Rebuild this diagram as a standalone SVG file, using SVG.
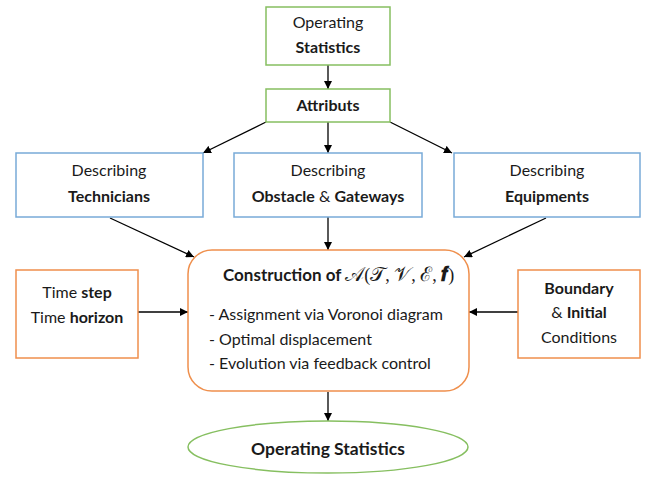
<svg xmlns="http://www.w3.org/2000/svg" width="648" height="477" viewBox="0 0 648 477">
  <style>
    text { font-family: Lato, "Open Sans", "Noto Sans", sans-serif; font-size: 16px; fill: #1a1a1a; }
    .c { text-anchor: middle; }
    .b { font-weight: bold; }
    .green { fill: #ffffff; stroke: #86bf60; stroke-width: 1.5; }
    .blue { fill: #ffffff; stroke: #78aad8; stroke-width: 1.5; }
    .orange { fill: #ffffff; stroke: #ef8f4c; stroke-width: 1.5; }
    .edge { stroke: #000000; stroke-width: 1.3; fill: none; marker-end: url(#arrow); }
    .math { font-family: "DejaVu Serif", "Liberation Serif", serif; font-size: 20px; font-weight: normal; }
    .mb { font-weight: bold; }
    .punct { font-family: "Liberation Serif", serif; font-size: 18px; font-weight: normal; }
  </style>
  <defs>
    <marker id="arrow" viewBox="0 0 10 10" refX="10" refY="5" markerWidth="8" markerHeight="8" markerUnits="userSpaceOnUse" orient="auto">
      <path d="M0,0 L10,5 L0,10 z" fill="#000000"/>
    </marker>
  </defs>

  <rect width="648" height="477" fill="#ffffff"/>

  <g id="connectors">
    <line class="edge" x1="328" y1="65" x2="328" y2="89"/>
    <line class="edge" x1="266" y1="122" x2="203" y2="153"/>
    <line class="edge" x1="328" y1="122" x2="328" y2="153"/>
    <line class="edge" x1="390" y1="122" x2="452" y2="153"/>
    <line class="edge" x1="110" y1="218" x2="194" y2="257"/>
    <line class="edge" x1="328" y1="217" x2="328" y2="250"/>
    <line class="edge" x1="546" y1="218" x2="464" y2="257"/>
    <line class="edge" x1="138" y1="312" x2="188" y2="312"/>
    <line class="edge" x1="518" y1="312" x2="469" y2="312"/>
    <line class="edge" x1="328" y1="392" x2="328" y2="421"/>
  </g>

  <g id="operating-statistics-in">
    <rect class="green" x="266" y="7" width="124" height="58"/>
    <text class="c" x="328" y="28">Operating</text>
    <text class="c b" x="328" y="53">Statistics</text>
  </g>

  <g id="attributs">
    <rect class="green" x="266" y="89" width="124" height="33"/>
    <text class="c b" x="328" y="111">Attributs</text>
  </g>

  <g id="technicians">
    <rect class="blue" x="16" y="153" width="187" height="64"/>
    <text class="c" x="109" y="176">Describing</text>
    <text class="c b" x="109" y="202">Technicians</text>
  </g>

  <g id="obstacles">
    <rect class="blue" x="234" y="153" width="188" height="64"/>
    <text class="c" x="328" y="176">Describing</text>
    <text class="c" x="328" y="202"><tspan class="b">Obstacle</tspan> &amp; <tspan class="b">Gateways</tspan></text>
  </g>

  <g id="equipments">
    <rect class="blue" x="454" y="153" width="186" height="64"/>
    <text class="c" x="547" y="176">Describing</text>
    <text class="c b" x="547" y="202">Equipments</text>
  </g>

  <g id="time">
    <rect class="orange" x="16" y="270" width="122" height="88"/>
    <text class="c" x="77" y="298">Time <tspan class="b">step</tspan></text>
    <text class="c" x="77" y="323">Time <tspan class="b">horizon</tspan></text>
  </g>

  <g id="construction">
    <rect class="orange" x="188" y="250" width="281" height="141" rx="24" ry="24"/>
    <text class="b" x="223" y="281" style="font-size:17px">Construction of <tspan class="math">𝒜</tspan><tspan class="punct">(</tspan><tspan class="math">𝒯</tspan><tspan class="punct">, </tspan><tspan class="math">𝒱</tspan><tspan class="punct">, </tspan><tspan class="math">ℰ</tspan><tspan class="punct">, </tspan><tspan class="math mb">𝒇</tspan><tspan class="punct">)</tspan></text>
    <text x="209" y="320">- Assignment via Voronoi diagram</text>
    <text x="209" y="345">- Optimal displacement</text>
    <text x="209" y="369">- Evolution via feedback control</text>
  </g>

  <g id="conditions">
    <rect class="orange" x="518" y="270" width="122" height="88"/>
    <text class="c b" x="579" y="294">Boundary</text>
    <text class="c" x="579" y="318">&amp; <tspan class="b">Initial</tspan></text>
    <text class="c" x="579" y="343">Conditions</text>
  </g>

  <g id="operating-statistics-out">
    <ellipse class="green" cx="328" cy="447" rx="140" ry="26"/>
    <text class="c b" x="328" y="455" style="font-size:17.5px">Operating Statistics</text>
  </g>
</svg>
